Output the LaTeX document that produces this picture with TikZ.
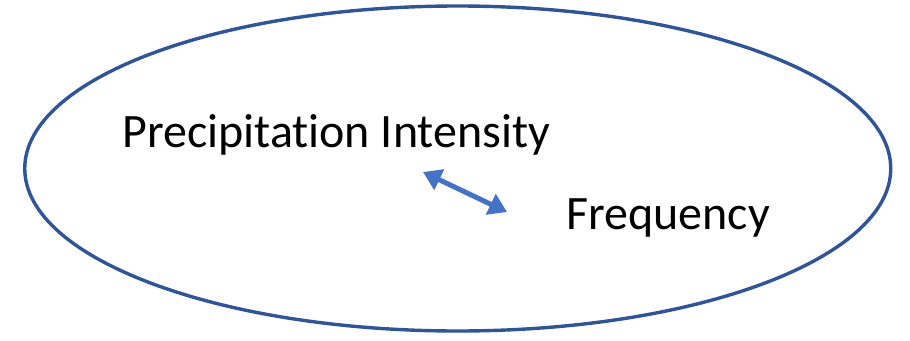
\documentclass[tikz,border=0pt]{standalone}
\usepackage{fontspec}
\setmainfont[Ligatures=NoCommon]{Carlito}
\usetikzlibrary{arrows.meta,shapes.geometric}
\definecolor{ellblue}{HTML}{2F5597}
\definecolor{arrblue}{HTML}{4472C4}
\begin{document}
\begin{tikzpicture}[x=1pt,y=-1pt,
  label/.style={inner sep=0pt,anchor=base west,font=\fontsize{48}{56}\selectfont},
  ring/.style={draw=ellblue,line width=3.4pt},
  link/.style={draw=arrblue,line width=5pt,{Triangle[length=18pt,width=22pt]}-{Triangle[length=18pt,width=22pt]}}]
\useasboundingbox (0,0) rectangle (910,340);
\node[ring,ellipse,minimum width=866pt,minimum height=325pt,inner sep=0pt] (e) at (457.75,168.5) {};
\node[label] (pi) at (122,147) {Precipitation Intensity};
\node[label] (fr) at (566,229) {Frequency};
\coordinate (a1) at (423,172);
\coordinate (a2) at (507,212);
\draw[link] (a1) -- (a2);
\end{tikzpicture}
\end{document}
